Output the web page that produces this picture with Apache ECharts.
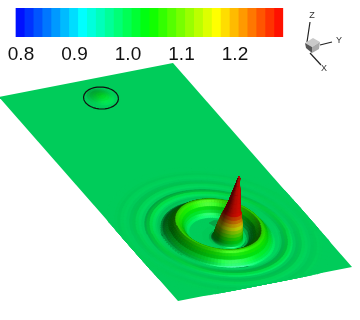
<!DOCTYPE html>
<html><head><meta charset="utf-8">
<style>html,body{margin:0;padding:0;background:#fff}#c{width:360px;height:320px}</style>
<script src="https://cdn.jsdelivr.net/npm/echarts@6/dist/echarts.min.js"></script>
</head><body><div id="c"></div>
<script>
// ---------- values ----------
const colorBands = ['#0011FF','#0033FF','#0055FF','#0077FF','#0099FF','#00BBFF','#00DDFF','#00FFFF','#00FFDD','#00FFBB','#00FF99','#00FF77','#00FF55','#00FF33','#00FF11','#11FF00','#33FF00','#55FF00','#77FF00','#99FF00','#BBFF00','#DDFF00','#FFFF00','#FFDD00','#FFBB00','#FF9900','#FF7700','#FF5500','#FF3300','#FF1100'];
const bandRange = [0.79, 1.29];
const tickRange = [0.8, 1.3];
// plate corners on the page: far-left, far-right(top), near-right, near-left
const plateCorners = [[-1,97],[173,63],[352,267],[178,301]];
const plateDepth = 1.8;
const waveCentre = [0.48, 1.36];
const bumpCentre = [0.497, 0.154];
const baseValue = 0.985;
// main wave rings, outermost first
const ringRadius = [.56,.52,.505,.49,.475,.46,.445,.43,.415,.40,.385,.37,.36,.345,.33,.315,.305,.295,.285,.275,.265,.25,.24,.23,.22,.21,.20,.185,.175,.165,.155,.14,.125,.11,.09,.08,.075,.072,.07,.068,.066,.063,.06,.056,.052,.048,.043,.037,.032,.027,.023,.019,.015,.01,.006,.004,.001];
const ringHeight = [0,0,.02,.08,.04,-.03,-.02,.12,.25,.12,-.08,-.1,.25,.55,.25,-.15,-.2,-.1,0,.8,2.2,4.2,6.5,8.5,10,10,8.5,6.5,4.2,2.2,.8,0,0,0,.1,.4,1,2,3,6,9,12,15,18,21,24,27,30,34,38,42,46,50,54,58,61,63];
const ringValue = [.985,.985,.986,.988,.987,.985,.985,.988,.992,.988,.985,.985,.995,1.005,.995,.985,.985,.985,.985,.995,1.01,1.025,1.04,1.055,1.065,1.07,1.06,1.045,1.025,1.01,.995,.985,.985,.985,.986,.99,1.0,1.005,1.015,1.045,1.075,1.105,1.14,1.175,1.205,1.235,1.265,1.3,1.35,1.4,1.4,1.4,1.4,1.4,1.4,1.4,1.4];
const ringShiftP = [.012,.012,.012,.012,.012,.012,.012,.012,.012,.012,.012,.012,.012,.012,.012,.012,.012,.012,0,0,0,0,0,0,0,0,0,0,0,0,0,0,.01,.02,.026,.026,.026,.026,.026,.026,.026,.026,.026,.026,.026,.026,.026,.026,.026,.026,.026,.026,.026,.026,.026,.026,.026];
const ringShiftQ = [-.01,-.01,-.01,-.01,-.01,-.01,-.01,-.01,-.01,-.01,-.01,-.01,-.01,-.01,-.01,-.01,-.01,-.01,0,0,0,0,0,0,0,0,0,0,0,0,0,0,.015,.035,.05,.05,.05,.05,.05,.05,.05,.05,.05,.05,.05,.05,.05,.05,.05,.05,.05,.05,.05,.05,.05,.05,.05];
const bumpRadius = [.10,.085,.07,.055,.04,.025,.012,.002];
const bumpHeight = [0,0,.1,.5,1,1.4,1.6,1.7];
const bumpValue = [.985,.985,.987,.995,1.003,1.01,1.015,1.015];
const bumpShift = [0,0,0,0,0,0,0,0];
const shelfPolygon = [[209,223],[214,220.5],[219,220],[219,226],[214,226]];
const shelfColor = '#05A545';
const markerCentre = [101,98];
const markerAxes = [17.5,11];
const markerTiltDeg = 3;
const triadAxes = [[[307,42],[310,22]],[[320,45],[332,42]],[[310,53],[321,65]]];
const triadLabels = [['Z',312,16],['Y',339,41],['X',324,69]];
const triadFaces = [
  {c:'#c9c9c9',p:[[305,43],[313,38],[320,42],[312,47]]},
  {c:'#a9a9a9',p:[[312,47],[320,42],[319,49],[312,53]]},
  {c:'#555555',p:[[305,43],[312,47],[312,53],[306,48]]}];
// ---------- projection ----------
function project(p,q,h){
  const a=p, b=q/plateDepth, c=plateCorners;
  const x=(1-a)*(1-b)*c[0][0]+a*(1-b)*c[1][0]+a*b*c[2][0]+(1-a)*b*c[3][0];
  const y=(1-a)*(1-b)*c[0][1]+a*(1-b)*c[1][1]+a*b*c[2][1]+(1-a)*b*c[3][1];
  return [x+0.19*h,y-h];
}
const clamp=(v,a,b)=>Math.max(a,Math.min(b,v));
const rgbStops=colorBands.map(s=>[parseInt(s.slice(1,3),16),parseInt(s.slice(3,5),16),parseInt(s.slice(5,7),16)]);
function valueRGB(v){
  const t=clamp((v-bandRange[0])/(bandRange[1]-bandRange[0])*colorBands.length-0.5,0,colorBands.length-1);
  const i=Math.min(Math.floor(t),colorBands.length-2),f=t-i;
  return [0,1,2].map(k=>rgbStops[i][k]*(1-f)+rgbStops[i+1][k]*f);
}
const norm=v=>{const l=Math.hypot(v[0],v[1],v[2])||1;return v.map(x=>x/l)};
const view=norm([-.48,.65,.59]);
const light=norm([.2,.6,.75]);
const half=norm([view[0]+light[0],view[1]+light[1],view[2]+light[2]]);
function shade(v,n){
  const d=Math.max(0,n[0]*light[0]+n[1]*light[1]+n[2]*light[2]);
  const s=Math.pow(Math.max(0,n[0]*half[0]+n[1]*half[1]+n[2]*half[2]),30);
  const f=0.32+0.48*d/light[2];
  return valueRGB(v).map(c=>Math.round(clamp(c*f+255*0.35*s,0,255)));
}
const quads=[];
function addMesh(centre,radius,height,values,shiftP,shiftQ,sectors){
  const pt=(i,k)=>{
    const th=k/sectors*Math.PI*2;
    const p0=centre[0]+shiftP[i]+radius[i]*Math.cos(th),q0=centre[1]+shiftQ[i]+radius[i]*Math.sin(th);
    const p=clamp(p0,0,1),q=clamp(q0,0,plateDepth),inside=p===p0&&q===q0;
    return [p,q,inside?height[i]:0,inside?values[i]:baseValue,inside?0:1];
  };
  for(let i=0;i<radius.length-1;i++)for(let k=0;k<sectors;k++){
    const A=pt(i,k),B=pt(i,k+1),C=pt(i+1,k+1),D=pt(i+1,k);
    const edge=A[4]+B[4]+C[4]+D[4]>0;
    const z=v=>v[2]/100;
    const u=[C[0]-A[0],C[1]-A[1],z(C)-z(A)],w=[D[0]-B[0],D[1]-B[1],z(D)-z(B)];
    let n=norm([u[1]*w[2]-u[2]*w[1],u[2]*w[0]-u[0]*w[2],u[0]*w[1]-u[1]*w[0]]);
    if(n[2]<0)n=n.map(x=>-x);
    if(edge)n=[0,0,1];
    const v=(A[3]+B[3]+C[3]+D[3])/4;
    const rgb=shade(v,n);
    const poly=[A,B,C,D].map(P=>project(P[0],P[1],P[2]));
    const base=[A,B,C,D].map(P=>project(P[0],P[1],0));
    const key=(base[0][1]+base[1][1]+base[2][1]+base[3][1])/4;
    quads.push({poly,key,color:`rgb(${rgb[0]},${rgb[1]},${rgb[2]})`});
  }
}
addMesh(bumpCentre,bumpRadius,bumpHeight,bumpValue,bumpShift,bumpShift,48);
addMesh(waveCentre,ringRadius,ringHeight,ringValue,ringShiftP,ringShiftQ,96);
quads.push({poly:shelfPolygon,key:231,color:shelfColor});
quads.sort((a,b)=>a.key-b.key);
const baseRGB=shade(baseValue,[0,0,1]);
const plateColor=`rgb(${baseRGB[0]},${baseRGB[1]},${baseRGB[2]})`;
const markerPts=[];
for(let k=0;k<=72;k++){const th=k/72*Math.PI*2,t=markerTiltDeg*Math.PI/180,ex=markerAxes[0]*Math.cos(th),ey=markerAxes[1]*Math.sin(th);
  markerPts.push([markerCentre[0]+ex*Math.cos(t)-ey*Math.sin(t),markerCentre[1]+ex*Math.sin(t)+ey*Math.cos(t)]);}

const chart=echarts.init(document.getElementById('c'),null,{renderer:'canvas'});
const polyItem=(api,pts,fill,stroke)=>({type:'polygon',shape:{points:pts.map(p=>api.coord(p))},style:{fill,stroke:stroke||fill,lineWidth:stroke?.6:0}});
chart.setOption({
  animation:false,backgroundColor:'#fff',
  grid:[{left:0,top:0,width:360,height:320,show:false},{left:21,top:8,width:267.5,height:29,show:false}],
  xAxis:[{gridIndex:0,type:'value',min:0,max:360,show:false},
    {gridIndex:1,type:'value',min:tickRange[0],max:tickRange[1],interval:0.1,position:'bottom',
     axisLine:{show:false},axisTick:{show:false},splitLine:{show:false},
     axisLabel:{show:true,margin:8,color:'#111',fontFamily:'Liberation Sans',fontSize:19,showMaxLabel:false,formatter:v=>v.toFixed(1)}}],
  yAxis:[{gridIndex:0,type:'value',min:0,max:320,inverse:true,show:false},{gridIndex:1,type:'value',min:0,max:1,show:false}],
  series:[
   {type:'custom',xAxisIndex:0,yAxisIndex:0,silent:true,progressive:0,data:[0],z:1,
    renderItem:(p,api)=>polyItem(api,[project(0,0,0),project(1,0,0),project(1,plateDepth,0),project(0,plateDepth,0)],plateColor)},
   {type:'custom',xAxisIndex:0,yAxisIndex:0,silent:true,progressive:0,z:3,data:quads.map((q,i)=>[i]),
    renderItem:(p,api)=>{const q=quads[api.value(0)];return polyItem(api,q.poly,q.color,q.color)}},
   {type:'line',xAxisIndex:0,yAxisIndex:0,silent:true,z:3,symbol:'none',data:markerPts,lineStyle:{color:'#111',width:1.2}},
   {type:'custom',xAxisIndex:1,yAxisIndex:1,silent:true,progressive:0,z:4,clip:false,data:colorBands.map((c,i)=>[i]),
    renderItem:(p,api)=>{const i=api.value(0),st=(bandRange[1]-bandRange[0])/colorBands.length;
      const a=api.coord([bandRange[0]+i*st,1]),b=api.coord([bandRange[0]+(i+1)*st,0]);
      return {type:'rect',shape:{x:a[0],y:a[1],width:b[0]-a[0]+(i<colorBands.length-1?1:0),height:b[1]-a[1]},style:{fill:colorBands[i]}}}},
   {type:'lines',coordinateSystem:'cartesian2d',xAxisIndex:0,yAxisIndex:0,silent:true,z:5,data:triadAxes.map(c=>({coords:c})),lineStyle:{color:'#222',width:1.2,opacity:1}},
   {type:'custom',xAxisIndex:0,yAxisIndex:0,silent:true,z:6,data:triadFaces.map((f,i)=>[i]),
    renderItem:(p,api)=>{const f=triadFaces[api.value(0)];return polyItem(api,f.p,f.c)}},
   {type:'custom',xAxisIndex:0,yAxisIndex:0,silent:true,z:7,data:triadLabels.map((f,i)=>[f[1],f[2],i]),
    renderItem:(p,api)=>{const c=api.coord([api.value(0),api.value(1)]);return {type:'text',style:{x:c[0],y:c[1],text:triadLabels[api.value(2)][0],fill:'#333',font:'9px "Liberation Sans"',align:'center',verticalAlign:'middle'}}}}
  ]
});
</script></body></html>
